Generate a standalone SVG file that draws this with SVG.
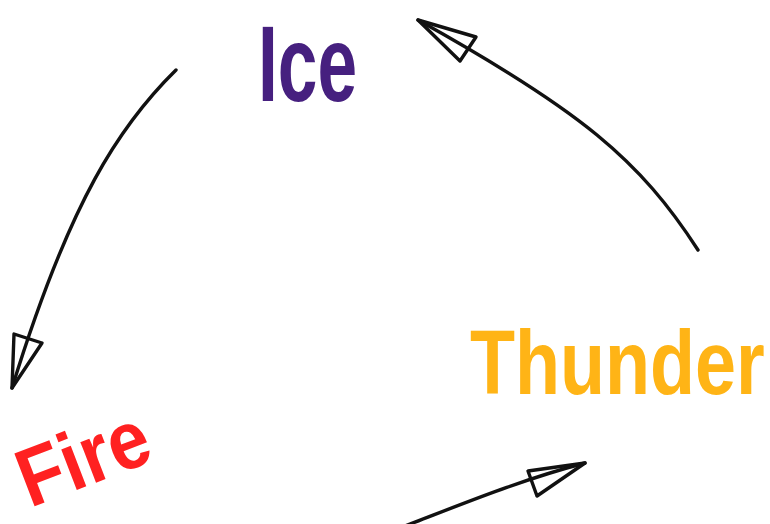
<svg xmlns="http://www.w3.org/2000/svg" width="770" height="524" viewBox="0 0 770 524">
<style>
.lbl{font-family:"Liberation Sans",Arial,sans-serif;font-weight:bold}
.arr{fill:none;stroke:#111;stroke-width:3.4;stroke-linecap:round;stroke-linejoin:round}
</style>
<rect width="770" height="524" fill="#fff"/>
<g id="ice"><text class="lbl" x="0" y="0" font-size="108" fill="#46207f" transform="translate(258,101) scale(0.66,1)">Ice</text></g>
<g id="thunder"><text class="lbl" x="0" y="0" font-size="91" fill="#ffb416" transform="translate(470,394) scale(0.81,1)">Thunder</text></g>
<g id="fire"><text class="lbl" x="0" y="0" font-size="82" fill="#ff2121" transform="translate(30,508) rotate(-21) scale(0.9,1)">Fire</text></g>
<g id="connectors">
<path class="arr" d="M176,70 C120,125 70,200 12,388"/>
<path class="arr" d="M14,334 L12,388 L42,343 Z"/>
<path class="arr" d="M698,250 C640,160 580,110 418,20"/>
<path class="arr" d="M476,37 L418,20 L460,61 Z"/>
<path class="arr" d="M405,526 C460,505 520,480 585,463"/>
<path class="arr" d="M528,471 L585,463 L537,496 Z"/>
</g>
</svg>
